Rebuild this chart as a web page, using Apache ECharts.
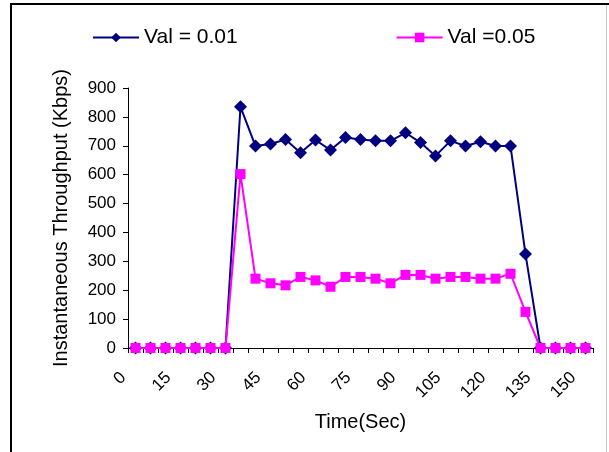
<!DOCTYPE html>
<html>
<head>
<meta charset="utf-8">
<script src="https://cdn.jsdelivr.net/npm/echarts@6/dist/echarts.min.js"></script>
<style>
html,body{margin:0;padding:0;background:#fff;}
#c{width:609px;height:452px;}
</style>
</head>
<body>
<div id="c"></div>
<script>
const categories = ['0','5','10','15','20','25','30','35','40','45','50','55','60','65','70','75','80','85','90','95','100','105','110','115','120','125','130','135','140','145','150'];
const val001 = [0,0,0,0,0,0,0,835,699,706,722,676,720,685,729,722,717,717,745,711,665,717,699,714,699,699,325,0,0,0,0];
const val005 = [0,0,0,0,0,0,0,602,240,224,217,246,234,212,246,246,240,224,253,253,240,246,246,240,240,257,125,0,0,0,0];
const seriesNames = ['Val = 0.01', 'Val =0.05'];
const xTitle = 'Time(Sec)';
const yTitle = 'Instantaneous Throughput (Kbps)';

const FONT = '"Liberation Sans", Arial, sans-serif';
const chart = echarts.init(document.getElementById('c'), null, {renderer: 'canvas'});
chart.setOption({
  animation: false,
  backgroundColor: '#fff',
  textStyle: {fontFamily: FONT, color: '#000'},
  grid: {left: 128, right: 16, top: 88, bottom: 104, containLabel: false},
  legend: {
    left: 87, top: 22,
    itemWidth: 46, itemHeight: 12, itemGap: 158,
    textStyle: {fontFamily: FONT, fontSize: 21, color: '#000'},
    data: seriesNames
  },
  xAxis: {
    type: 'category',
    data: categories,
    boundaryGap: true,
    name: xTitle,
    nameLocation: 'middle',
    nameGap: 64,
    nameTextStyle: {fontFamily: FONT, fontSize: 20, color: '#000'},
    axisLine: {lineStyle: {color: '#000', width: 1}},
    axisTick: {show: true, interval: 0, inside: false, length: 5, lineStyle: {color: '#000'}},
    axisLabel: {interval: 2, rotate: 45, margin: 15, padding: [0, 17, 0, 0], fontFamily: FONT, fontSize: 17, color: '#000'},
    splitLine: {show: false}
  },
  yAxis: {
    type: 'value',
    min: 0, max: 900, interval: 100,
    name: yTitle,
    nameLocation: 'middle',
    nameGap: 57,
    nameTextStyle: {fontFamily: FONT, fontSize: 20, color: '#000'},
    axisLine: {show: true, lineStyle: {color: '#000', width: 1}},
    axisTick: {show: true, length: 5, lineStyle: {color: '#000'}},
    axisLabel: {margin: 12, fontFamily: FONT, fontSize: 17, color: '#000'},
    splitLine: {show: false}
  },
  series: [
    {
      name: seriesNames[0], type: 'line', data: val001,
      symbol: 'diamond', symbolSize: 13, showAllSymbol: true,
      lineStyle: {color: '#000080', width: 2},
      itemStyle: {color: '#000080'},
      z: 2
    },
    {
      name: seriesNames[1], type: 'line', data: val005,
      symbol: 'rect', symbolSize: 10, showAllSymbol: true,
      lineStyle: {color: '#FF00FF', width: 2},
      itemStyle: {color: '#FF00FF'},
      z: 3
    }
  ],
  graphic: [
    {type: 'rect', shape: {x: 10, y: 3, width: 599, height: 2}, style: {fill: '#000'}, silent: true},
    {type: 'rect', shape: {x: 10, y: 3, width: 2, height: 449}, style: {fill: '#000'}, silent: true},
    {type: 'rect', shape: {x: 606, y: 5, width: 1, height: 447}, style: {fill: '#c8c8c8'}, silent: true}
  ]
});
</script>
</body>
</html>
